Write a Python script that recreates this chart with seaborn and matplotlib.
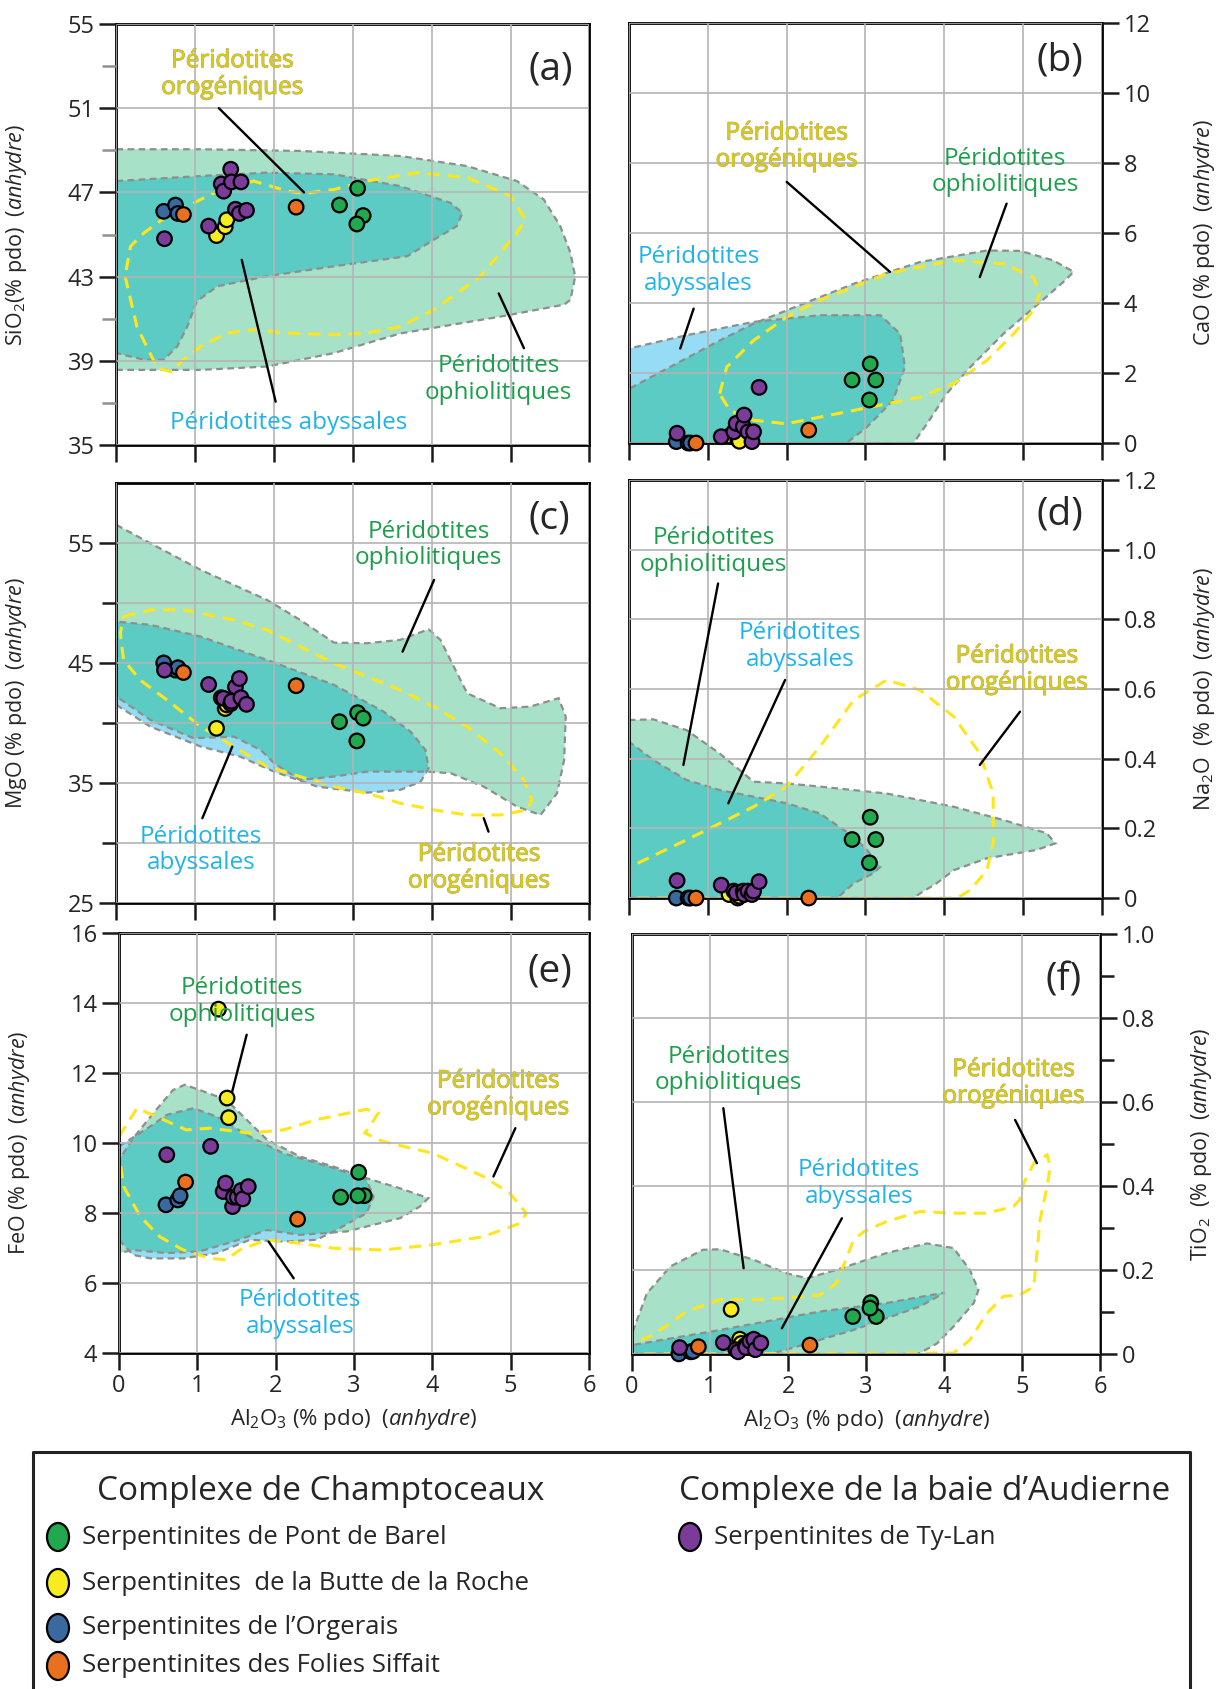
import numpy as np
import pandas as pd
import seaborn as sns
import matplotlib.pyplot as plt
from matplotlib.patches import Polygon, Ellipse
import matplotlib.patheffects as pe

# ---- samples (Al2O3 and oxides, % pdo anhydre) ----
groups = ['Serpentinites de Pont de Barel', 'Serpentinites  de la Butte de la Roche',
          'Serpentinites de l\u2019Orgerais', 'Serpentinites des Folies Siffait',
          'Serpentinites de Ty-Lan']
group_colors = ['#22a84f', '#f6ec1e', '#39699f', '#e8701f', '#7a3c98']

sample_group = [groups[0]] * 4 + [groups[1]] * 3 + [groups[2]] * 3 + [groups[3]] * 2 + [groups[4]] * 10
al2o3 = [2.83, 3.06, 3.13, 3.05, 1.27, 1.38, 1.40, 0.60, 0.75, 0.78, 0.85, 2.28,
         0.61, 1.17, 1.33, 1.36, 1.45, 1.46, 1.51, 1.56, 1.58, 1.65]
sio2 = [46.4, 47.2, 45.9, 45.5, 44.95, 45.37, 45.7, 46.1, 46.4, 46.0, 45.95, 46.3,
        44.8, 45.4, 47.4, 47.06, 48.1, 47.5, 46.2, 46.0, 47.5, 46.15]
cao = [1.8, 2.26, 1.8, 1.23, 0.2, 0.1, 0.05, 0.04, 0.0, 0.0, 0.0, 0.37,
       0.28, 0.18, 0.32, 0.56, 0.47, 0.8, 0.32, 0.04, 0.32, 1.59]
mgo = [40.1, 40.85, 40.4, 38.5, 39.55, 41.2, 41.5, 45.0, 44.4, 44.6, 44.2, 43.1,
       44.4, 43.2, 42.1, 42.05, 41.6, 41.8, 43.0, 43.7, 42.1, 41.55]
na2o = [0.168, 0.232, 0.168, 0.101, 0.01, 0.0, 0.005, 0.0, 0.0, 0.0, 0.0, 0.0,
        0.05, 0.037, 0.02, 0.015, 0.02, 0.01, 0.02, 0.01, 0.02, 0.047]
feo = [8.45, 9.16, 8.49, 8.49, 13.82, 11.28, 10.72, 8.23, 8.37, 8.49, 8.88, 7.82,
       9.66, 9.9, 8.61, 8.85, 8.18, 8.45, 8.45, 8.64, 8.4, 8.75]
tio2 = [0.089, 0.122, 0.089, 0.109, 0.106, 0.035, 0.025, 0.0, 0.005, 0.006, 0.017, 0.021,
        0.015, 0.027, 0.01, 0.005, 0.02, 0.015, 0.03, 0.035, 0.01, 0.026]

# ---- reference fields (outlines, Al2O3 vs oxide) ----
ophio_sio2 = [(0, 49.05), (1.07, 49.05), (2.34, 48.97), (3.6, 48.73), (4.45, 48.25), (5.08, 47.54),
              (5.42, 46.67), (5.63, 45.4), (5.76, 44.13), (5.82, 43.0), (5.76, 41.9), (5.68, 41.67),
              (4.87, 41.1), (3.6, 40.3), (2.76, 39.37), (1.91, 38.73), (1.07, 38.57), (0, 38.57)]
abyss_sio2 = [(0, 47.54), (1.07, 47.78), (1.91, 47.94), (2.76, 47.86), (3.6, 47.3), (4.24, 46.5),
              (4.39, 46.03), (4.32, 45.4), (4.03, 44.76), (3.69, 43.97), (2.76, 43.49), (1.91, 43.02),
              (1.28, 42.54), (1.02, 41.83), (0.9, 40.63), (0.77, 39.68), (0.6, 39.05), (0.35, 39.05),
              (0, 39.37)]
orog_sio2 = [(0.11, 43.02), (0.26, 40.63), (0.52, 38.65), (0.69, 38.49), (0.85, 39.05), (1.07, 39.68),
             (1.40, 40.32), (1.74, 40.48), (2.17, 40.32), (2.76, 40.24), (3.18, 40.32), (3.6, 40.63),
             (4.03, 41.43), (4.62, 43.02), (4.87, 44.13), (5.08, 45.08), (5.19, 45.71), (5.0, 46.83),
             (4.45, 47.7), (3.82, 47.94), (3.18, 47.54), (2.76, 47.14), (2.38, 46.95), (2.17, 47.06),
             (1.74, 47.54), (1.24, 46.98), (0.64, 45.87), (0.35, 45.08), (0.18, 44.44)]

ophio_cao = [(0, 0), (0, 1.55), (0.52, 2.17), (1.15, 2.93), (1.58, 3.41), (2.0, 3.79), (2.85, 4.55),
             (3.69, 5.17), (4.54, 5.5), (4.96, 5.49), (5.38, 5.22), (5.64, 4.89), (5.51, 4.6),
             (5.22, 4.03), (4.75, 3.12), (4.33, 2.17), (4.03, 1.41), (3.78, 0.55), (3.61, 0)]
abyss_cao = [(0, 0), (0, 2.7), (0.73, 3.08), (1.58, 3.46), (2.42, 3.65), (3.19, 3.65), (3.44, 3.12),
             (3.5, 2.17), (3.35, 1.22), (3.02, 0.46), (2.76, 0)]
orog_cao = [(1.15, 1.41), (1.24, 2.17), (1.58, 2.93), (2.0, 3.6), (2.42, 4.08), (2.85, 4.46),
            (3.27, 4.84), (4.12, 5.22), (4.75, 5.12), (5.13, 4.74), (5.21, 4.27), (5.13, 3.79),
            (4.88, 3.12), (4.54, 2.36), (4.12, 1.7), (3.69, 1.31), (3.27, 1.12), (2.85, 0.93),
            (2.42, 0.74), (2.0, 0.55), (1.58, 0.65), (1.28, 0.93)]

ophio_mgo = [(0, 56.5), (0.43, 54.97), (1.07, 52.75), (1.91, 50.25), (2.33, 48.58), (2.76, 46.69),
             (3.18, 46.64), (3.6, 46.92), (3.96, 47.8), (4.11, 46.92), (4.28, 44.69), (4.45, 42.47),
             (4.87, 41.22), (5.25, 41.36), (5.61, 42.06), (5.70, 40.53), (5.68, 36.92), (5.59, 34.14),
             (5.38, 32.33), (5.08, 33.03), (4.66, 34.69), (4.24, 35.81), (3.94, 35.94), (3.18, 35.94),
             (2.76, 35.53), (2.33, 35.25), (2.0, 36.64), (1.83, 37.75), (1.49, 38.86), (0.98, 38.72),
             (0.43, 40.25), (0, 42.19)]
abyss_mgo = [(0, 41.5), (0.43, 39.69), (1.07, 38.03), (1.57, 37.19), (2.0, 35.94), (2.55, 34.69),
             (3.18, 34.19), (3.6, 34.42), (3.86, 35.11), (3.96, 36.22), (3.92, 37.75), (3.73, 39.28),
             (3.39, 40.94), (2.76, 43.17), (1.91, 45.25), (1.07, 47.19), (0.43, 48.17), (0, 48.44)]
orog_mgo = [(0.09, 48.86), (0.43, 49.42), (0.85, 49.42), (1.49, 48.58), (1.91, 47.75), (2.33, 46.36),
            (2.76, 44.97), (3.18, 43.86), (3.6, 42.75), (4.03, 41.36), (4.45, 39.69), (4.87, 37.47),
            (5.17, 35.25), (5.27, 33.58), (5.21, 32.75), (4.87, 32.33), (4.45, 32.33), (4.03, 32.75),
            (3.6, 33.31), (3.18, 34.14), (2.76, 34.69), (2.33, 35.53), (1.91, 36.36), (1.49, 38.03),
            (1.07, 39.69), (0.64, 41.92), (0.3, 43.58), (0.09, 45.25), (0.05, 47.47)]

ophio_na2o = [(0, 0), (0, 0.511), (0.31, 0.513), (0.73, 0.482), (1.15, 0.415), (1.58, 0.334),
              (2.0, 0.329), (2.42, 0.32), (3.27, 0.30), (4.12, 0.262), (4.75, 0.224), (5.3, 0.186),
              (5.41, 0.157), (5.17, 0.138), (4.54, 0.114), (4.12, 0.08), (3.9, 0.042), (3.69, 0.013),
              (3.61, 0)]
abyss_na2o = [(0, 0), (0, 0.449), (0.31, 0.396), (0.73, 0.339), (1.15, 0.31), (1.58, 0.291),
              (2.0, 0.272), (2.42, 0.243), (2.85, 0.176), (3.02, 0.138), (3.19, 0.09), (3.1, 0.071),
              (2.85, 0.042), (2.64, 0)]
orog_na2o = [(0, 0), (0, 0.088), (0.73, 0.167), (1.58, 0.262), (2.0, 0.32), (2.42, 0.434),
             (2.85, 0.568), (3.27, 0.626), (3.69, 0.597), (4.12, 0.521), (4.45, 0.415), (4.62, 0.30),
             (4.62, 0.157), (4.54, 0.08), (4.33, 0.023), (4.16, 0)]

ophio_feo = [(0, 6.85), (0, 9.51), (0.18, 10.13), (0.44, 10.85), (0.69, 11.51), (0.84, 11.66),
             (1.03, 11.51), (1.37, 11.23), (1.63, 10.66), (1.89, 10.09), (2.31, 9.61), (2.74, 9.32),
             (3.16, 8.99), (3.59, 8.7), (3.95, 8.42), (3.84, 8.18), (3.59, 7.85), (3.16, 7.61),
             (2.91, 7.47), (2.31, 7.37), (1.89, 7.51), (1.46, 7.18), (1.03, 6.9), (0.61, 6.85),
             (0.18, 6.94)]
abyss_feo = [(0, 9.9), (0.1, 10.04), (0.4, 10.47), (0.61, 10.8), (0.95, 10.99), (1.25, 10.75),
             (1.67, 10.18), (2.1, 9.7), (2.74, 9.28), (3.16, 8.94), (3.25, 8.47), (3.16, 7.99),
             (2.74, 7.47), (2.52, 7.23), (2.1, 7.18), (1.67, 7.23), (1.25, 6.85), (0.82, 6.7),
             (0.4, 6.7), (0.18, 6.8), (0, 7.23)]
orog_feo = [(0, 10.18), (0.23, 10.99), (0.48, 10.75), (0.86, 10.37), (1.16, 10.42), (1.67, 10.28),
            (2.1, 10.37), (2.52, 10.66), (3.16, 10.96), (3.31, 10.85), (3.2, 10.47), (3.14, 10.28),
            (3.37, 10.04), (4.01, 9.7), (4.65, 9.04), (4.99, 8.56), (5.2, 7.99), (5.12, 7.7),
            (4.65, 7.32), (4.01, 7.09), (3.37, 6.94), (2.74, 6.99), (2.31, 7.13), (1.89, 7.23),
            (1.54, 6.94), (1.37, 6.66), (1.16, 6.7), (0.82, 6.94), (0.52, 7.32), (0.27, 7.9),
            (0.06, 8.75), (0, 9.7)]

ophio_tio2 = [(0, 0), (0, 0.049), (0.19, 0.144), (0.49, 0.208), (0.91, 0.248), (1.13, 0.249),
              (1.56, 0.224), (1.98, 0.192), (2.24, 0.18), (2.62, 0.2), (3.26, 0.24), (3.78, 0.263),
              (4.12, 0.252), (4.33, 0.2), (4.44, 0.152), (4.38, 0.121), (4.12, 0.065), (3.91, 0.025),
              (3.69, 0.002), (3.6, 0)]
abyss_tio2 = [(0, 0), (0, 0.021), (1.13, 0.057), (2.41, 0.101), (3.26, 0.121), (4.01, 0.146),
              (3.69, 0.113), (2.84, 0.057), (1.98, 0.01), (1.77, 0)]
orog_tio2 = [(0, 0), (0, 0.025), (0.27, 0.045), (0.7, 0.101), (1.13, 0.129), (1.56, 0.129),
             (1.98, 0.133), (2.41, 0.14), (2.62, 0.168), (2.84, 0.271), (2.97, 0.291), (3.26, 0.315),
             (3.69, 0.339), (4.12, 0.335), (4.55, 0.335), (4.89, 0.351), (4.97, 0.367), (5.02, 0.406),
             (5.15, 0.454), (5.32, 0.474), (5.36, 0.446), (5.32, 0.398), (5.23, 0.319), (5.19, 0.24),
             (5.15, 0.16), (4.97, 0.14), (4.76, 0.137), (4.55, 0.097), (4.33, 0.033), (4.12, 0.002)]

# ---- style ----
sns.set_theme(style='ticks')
plt.rcParams['font.family'] = ['Open Sans', 'DejaVu Sans']
plt.rcParams['mathtext.fontset'] = 'custom'
plt.rcParams['mathtext.rm'] = 'Open Sans'
plt.rcParams['mathtext.it'] = 'Open Sans:italic'
plt.rcParams['mathtext.bf'] = 'Open Sans:bold'

C_OPHIO = '#a7e1c8'
C_TEAL = '#5ccbc3'
C_ABYSS = '#96dcf5'
C_EDGE = '#8e8e8e'
C_OROG = '#ffe61c'
T_GREEN = '#1c9f4b'
T_BLUE = '#1fb3ea'
T_YEL = '#d8c91e'

df = pd.DataFrame({'group': sample_group, 'al2o3': al2o3, 'sio2': sio2, 'cao': cao,
                   'mgo': mgo, 'na2o': na2o, 'feo': feo, 'tio2': tio2})
palette = dict(zip(groups, group_colors))

fig = plt.figure(figsize=(12.19, 16.89), dpi=100)

AL_LABEL = 'Al$_2$O$_3$ (% pdo)  $\\it{(anhydre)}$'
panels = [
    dict(col='sio2', letter='(a)', rect=[0.0955, 0.7365, 0.388, 0.2493], side='left',
         ylim=(35, 55), major=[35, 39, 43, 47, 51, 55], minor=[37, 41, 45, 49, 53], lab=None,
         ylabel='SiO$_2$(% pdo)  $\\it{(anhydre)}$', fields=(ophio_sio2, abyss_sio2, orog_sio2),
         grid='major', minor_col='#909090', letter_xy=(5.51, 52.86),
         notes=[('Péridotites\norogéniques', T_YEL, (1.47, 52.6), (1.30, 51.0), (2.38, 47.0)),
                ('Péridotites abyssales', T_BLUE, (2.19, 36.03), (2.02, 37.06), (1.59, 43.8)),
                ('Péridotites\nophiolitiques', T_GREEN, (4.85, 38.1), (5.17, 39.6), (4.85, 42.2))]),
    dict(col='cao', letter='(b)', rect=[0.516, 0.7377, 0.388, 0.2487], side='right',
         ylim=(0, 12), major=[0, 2, 4, 6, 8, 10, 12], minor=[], lab=None,
         ylabel='CaO (% pdo)  $\\it{(anhydre)}$', fields=(ophio_cao, abyss_cao, orog_cao),
         grid='major', minor_col='k', letter_xy=(5.47, 10.93),
         notes=[('Péridotites\norogéniques', T_YEL, (2.0, 8.46), (2.0, 7.46), (3.31, 4.89)),
                ('Péridotites\nophiolitiques', T_GREEN, (4.77, 7.74), (4.79, 6.84), (4.45, 4.74)),
                ('Péridotites\nabyssales', T_BLUE, (0.88, 4.93), (0.82, 3.84), (0.65, 2.7))]),
    dict(col='mgo', letter='(c)', rect=[0.0955, 0.4654, 0.388, 0.2487], side='left',
         ylim=(25, 60), major=[25, 35, 45, 55], minor=[30, 40, 50], lab=None,
         ylabel='MgO (% pdo)  $\\it{(anhydre)}$', fields=(ophio_mgo, abyss_mgo, orog_mgo),
         grid='both', minor_col='k', letter_xy=(5.49, 57.06),
         notes=[('Péridotites\nophiolitiques', T_GREEN, (3.96, 54.83), (4.03, 51.92), (3.63, 45.94)),
                ('Péridotites\nabyssales', T_BLUE, (1.07, 29.42), (1.09, 32.06), (1.47, 38.03)),
                ('Péridotites\norogéniques', T_YEL, (4.6, 27.9), (4.72, 30.94), (4.66, 32.06))]),
    dict(col='na2o', letter='(d)', rect=[0.516, 0.4683, 0.388, 0.2475], side='right',
         ylim=(0, 1.2), major=[0, 0.2, 0.4, 0.6, 0.8, 1.0, 1.2], minor=[],
         lab=['0', '0.2', '0.4', '0.6', '0.8', '1.0', '1.2'],
         ylabel='Na$_2$O  (% pdo)  $\\it{(anhydre)}$', fields=(ophio_na2o, abyss_na2o, orog_na2o),
         grid='major', minor_col='k', letter_xy=(5.47, 1.1),
         notes=[('Péridotites\nophiolitiques', T_GREEN, (1.07, 0.994), (1.13, 0.903), (0.69, 0.382)),
                ('Péridotites\nabyssales', T_BLUE, (2.17, 0.722), (1.98, 0.626), (1.26, 0.272)),
                ('Péridotites\norogéniques', T_YEL, (4.92, 0.655), (4.96, 0.535), (4.45, 0.382))]),
    dict(col='feo', letter='(e)', rect=[0.0976, 0.199, 0.3856, 0.2487], side='left',
         ylim=(4, 16), major=[4, 6, 8, 10, 12, 14, 16], minor=[], lab=None,
         ylabel='FeO (% pdo)  $\\it{(anhydre)}$', fields=(ophio_feo, abyss_feo, orog_feo),
         grid='major', minor_col='k', letter_xy=(5.5, 14.9),
         notes=[('Péridotites\nophiolitiques', T_GREEN, (1.57, 14.04), (1.63, 13.09), (1.44, 11.42)),
                ('Péridotites\nabyssales', T_BLUE, (2.31, 5.13), (2.23, 6.13), (1.91, 7.18)),
                ('Péridotites\norogéniques', T_YEL, (4.84, 11.37), (5.06, 10.42), (4.78, 9.04))]),
    dict(col='tio2', letter='(f)', rect=[0.5185, 0.1984, 0.384, 0.2487], side='right',
         ylim=(0, 1.0), major=[0, 0.2, 0.4, 0.6, 0.8, 1.0], minor=[0.1, 0.3, 0.5, 0.7, 0.9],
         lab=['0', '0.2', '0.4', '0.6', '0.8', '1.0'],
         ylabel='TiO$_2$  (% pdo)  $\\it{(anhydre)}$', fields=(ophio_tio2, abyss_tio2, orog_tio2),
         grid='major', minor_col='k', letter_xy=(5.53, 0.89),
         notes=[('Péridotites\nophiolitiques', T_GREEN, (1.24, 0.676), (1.17, 0.585), (1.43, 0.204)),
                ('Péridotites\nabyssales', T_BLUE, (2.91, 0.406), (2.69, 0.323), (1.92, 0.061)),
                ('Péridotites\norogéniques', T_YEL, (4.89, 0.644), (4.91, 0.557), (5.19, 0.454))]),
]

for i, p in enumerate(panels):
    ax = fig.add_axes(p['rect'])
    ax.set_xlim(0, 6)
    ax.set_ylim(*p['ylim'])
    ax.set_axisbelow(False)

    ophio, abyss, orog = p['fields']
    # abyssal field outside ophiolites (light blue), ophiolites, and overlap (teal)
    ax.add_patch(Polygon(abyss, closed=True, fc=C_ABYSS, ec='none', zorder=1.0))
    green = Polygon(ophio, closed=True, fc=C_OPHIO, ec='none', zorder=1.1)
    ax.add_patch(green)
    teal = Polygon(abyss, closed=True, fc=C_TEAL, ec='none', zorder=1.2)
    ax.add_patch(teal)
    teal.set_clip_path(green)
    for poly in (ophio, abyss):
        ax.add_patch(Polygon(poly, closed=True, fill=False, ec=C_EDGE, lw=1.6,
                             ls=(0, (3, 2)), zorder=1.3))
    ax.add_patch(Polygon(orog, closed=True, fill=False, ec=C_OROG, lw=2.2,
                         ls=(0, (4, 2.6)), zorder=1.4))

    sns.scatterplot(data=df, x='al2o3', y=p['col'], hue='group', hue_order=groups,
                    palette=palette, s=110, edgecolor='black', linewidth=1.6,
                    legend=False, ax=ax, zorder=6, clip_on=False)

    # ticks / grid
    ax.set_xticks(range(7))
    ax.set_yticks(p['major'])
    ax.set_yticks(p['minor'], minor=True)
    if p['lab'] is not None:
        ax.set_yticklabels(p['lab'])
    ax.grid(True, which=p['grid'], color='#b4b4b4', lw=1.2)
    ax.tick_params(which='major', length=12, width=1.8, color='k', labelsize=17)
    ax.tick_params(which='minor', length=10, width=1.8, color=p['minor_col'])
    ax.tick_params(axis='x', which='minor', bottom=False)
    if p['side'] == 'right':
        ax.yaxis.tick_right()
        ax.yaxis.set_label_position('right')
        ax.yaxis.set_label_coords(1.19, 0.5)
    else:
        ax.yaxis.set_label_coords(-0.185, 0.5)
    ax.set_ylabel(p['ylabel'], fontsize=15.5, rotation=90)
    if i >= 4:
        ax.set_xlabel(AL_LABEL, fontsize=16, labelpad=6)
    else:
        ax.set_xlabel('')
        ax.tick_params(axis='x', labelbottom=False)
    for sp in ax.spines.values():
        sp.set_visible(True)
        sp.set_linewidth(2.0)
        sp.set_color('black')

    ax.text(*p['letter_xy'], p['letter'], fontsize=28, ha='center', va='center', zorder=8)
    for txt, col, xy, l0, l1 in p['notes']:
        ax.plot([l0[0], l1[0]], [l0[1], l1[1]], color='black', lw=1.7, zorder=5)
        t = ax.text(xy[0], xy[1], txt, color=col, fontsize=17.5, ha='center', va='center',
                    linespacing=1.15, zorder=8)
        if col == T_YEL:
            t.set_path_effects([pe.withStroke(linewidth=0.7, foreground='#a8a26a'), pe.Normal()])

# ---- legend box (pixel coordinates) ----
lax = fig.add_axes([0, 0, 1, 249 / 1689])
lax.set_xlim(0, 1219)
lax.set_ylim(1689, 1440)
lax.axis('off')
lax.plot([33, 33, 1190, 1190], [1700, 1452, 1452, 1700], color='#222222', lw=2.2, clip_on=False)
lax.text(321, 1491, 'Complexe de Champtoceaux', fontsize=24, ha='center', va='center')
lax.text(925, 1491, 'Complexe de la baie d\u2019Audierne', fontsize=24, ha='center', va='center')
legend_rows = [(58, 1537, 0), (58, 1583, 1), (58, 1628, 2), (58, 1666, 3), (690, 1537, 4)]
for x, y, k in legend_rows:
    lax.add_patch(Ellipse((x, y), 22, 28, fc=group_colors[k], ec='black', lw=1.6))
    lax.text(x + 24, y, groups[k], fontsize=18.5, ha='left', va='center')

fig.savefig('out.png', dpi=100)
